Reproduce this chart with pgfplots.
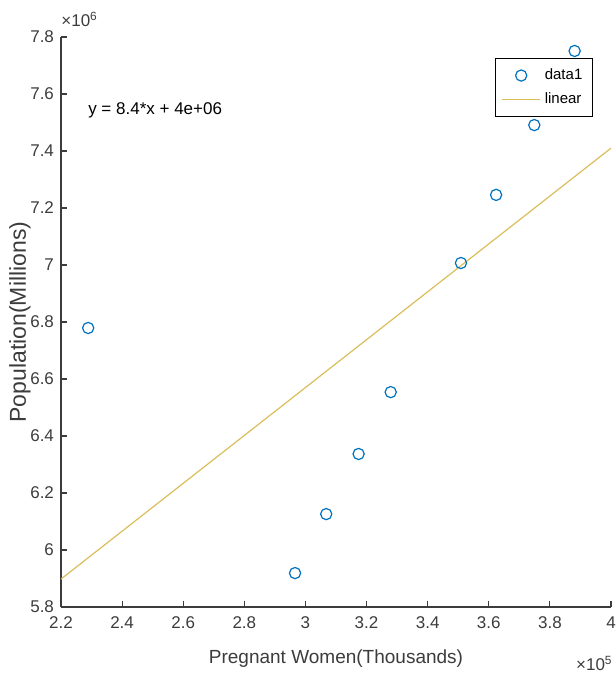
\documentclass[border=0pt]{standalone}
\usepackage{fontspec}
\setmainfont{Liberation Sans}
\usepackage{pgfplots}
\pgfplotsset{compat=1.18}
\definecolor{mblue}{rgb}{0,0.447,0.741}
\definecolor{fitc}{RGB}{218,190,90}
\definecolor{axc}{RGB}{60,60,60}

\pgfplotsset{
    xtick scale label code/.code={\texttimes10\textsuperscript{#1}},
    ytick scale label code/.code={\texttimes10\textsuperscript{#1}},
    markleg/.style={legend image code/.code={\draw[##1] plot coordinates {(9.5pt,0pt)};}},
    lineleg/.style={legend image code/.code={\draw[##1] (0pt,0pt) -- (19pt,0pt);}},
}

\begin{document}
\begin{tikzpicture}
\begin{axis}[
    scale only axis,
    width=275pt, height=285pt,
    xmin=2.2e5, xmax=4e5, ymin=5.8e6, ymax=7.8e6,
    xtick={220000,240000,260000,280000,300000,320000,340000,360000,380000,400000},
    ytick={5800000,6000000,6200000,6400000,6600000,6800000,7000000,7200000,7400000,7600000,7800000},
    axis lines*=left,
    axis line style={-, draw=axc, line width=0.6pt},
    tick align=inside,
    major tick length=3pt,
    tick style={draw=axc, line width=0.6pt},
    scaled x ticks=base 10:-5,
    scaled y ticks=base 10:-6,
    every x tick scale label/.style={at={(rel axis cs:1,0)}, anchor=north east,
        yshift=-23pt, xshift=1pt, inner sep=0pt, text=axc,
        font=\fontsize{8.5}{10}\selectfont},
    every y tick scale label/.style={at={(rel axis cs:0,1)}, anchor=south west,
        yshift=5pt, inner sep=0pt, text=axc,
        font=\fontsize{8.5}{10}\selectfont},
    /pgf/number format/assume math mode=true,
    tick label style={font=\fontsize{8.5}{10}\selectfont, text=axc},
    xticklabel style={yshift=-1.5pt},
    xlabel={Pregnant Women(Thousands)},
    ylabel={Population(Millions)},
    xlabel style={font=\fontsize{9.5}{11}\selectfont, text=axc,
        at={(rel axis cs:0.5,0)}, anchor=north, yshift=-18pt},
    ylabel style={font=\fontsize{11.5}{13}\selectfont, text=axc,
        at={(rel axis cs:-0.0745,0.5)}, anchor=center},
    legend style={at={(0.967,0.963)}, anchor=north east, draw=black,
        line width=0.5pt, font=\fontsize{7.5}{9}\selectfont,
        row sep=1pt, inner sep=3pt},
    legend cell align=left,
]
\addplot[only marks, mark=o, mark size=2.8pt,
    mark options={draw=mblue, line width=0.6pt}, markleg]
coordinates {
    (228900,6779000) (296600,5919000) (306800,6126000) (317400,6337000)
    (327900,6554000) (350900,7007000) (362400,7246000) (374900,7491000)
    (388100,7751000)
};
\addplot[fitc, line width=0.6pt, lineleg]
coordinates {(220000,5898000) (400000,7410000)};
\legend{data1, linear}
\node[anchor=west, inner sep=0pt, font=\fontsize{8.5}{10}\selectfont]
    at (axis cs:228800,7544000) {y = 8.4*x + 4e+06};
\coordinate (bl) at (rel axis cs:0,0);
\coordinate (tr) at (rel axis cs:1,1);
\end{axis}
\pgfresetboundingbox
\path[use as bounding box] ([xshift=-30.5pt,yshift=-34pt]bl) rectangle ([xshift=2.5pt,yshift=18.5pt]tr);
\end{tikzpicture}
\end{document}
